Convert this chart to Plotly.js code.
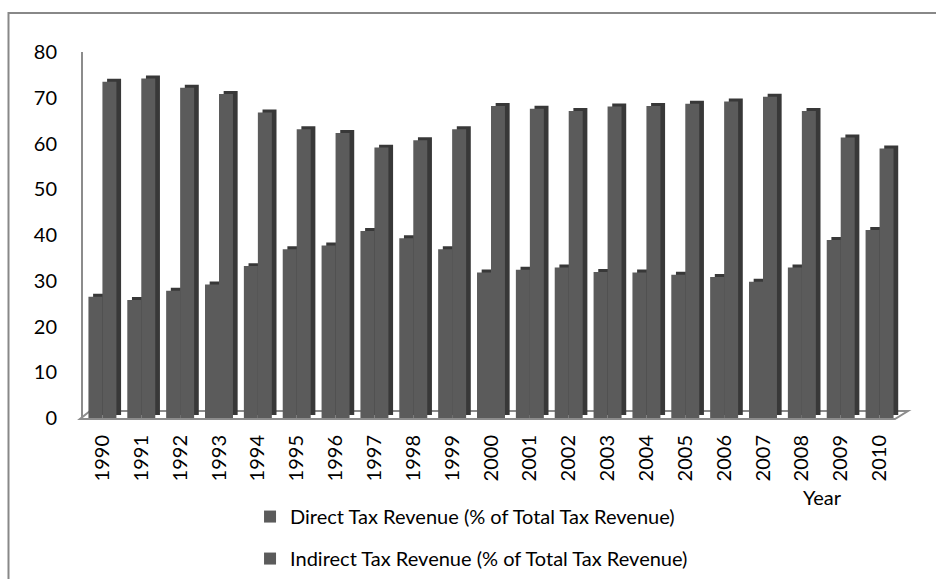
<!DOCTYPE html>
<html>
<head>
<meta charset="utf-8">
<script src="https://cdn.plot.ly/plotly-3.0.1.min.js"></script>
<style>
  html, body { margin: 0; padding: 0; background: #ffffff; }
  #chart { width: 936px; height: 579px; }
</style>
</head>
<body>
<div id="chart"></div>
<script>
const years = ['1990','1991','1992','1993','1994','1995','1996','1997','1998','1999','2000',
               '2001','2002','2003','2004','2005','2006','2007','2008','2009','2010'];
const directTax = [26.5, 25.8, 27.8, 29.2, 33.2, 36.9, 37.7, 40.9, 39.3, 36.9, 31.8,
                   32.4, 32.9, 31.9, 31.8, 31.3, 30.8, 29.8, 32.9, 38.9, 41.1];
const indirectTax = [73.5, 74.2, 72.2, 70.8, 66.8, 63.1, 62.3, 59.1, 60.7, 63.1, 68.2,
                     67.6, 67.1, 68.1, 68.2, 68.7, 69.2, 70.2, 67.1, 61.3, 58.9];
const seriesNames = ['Direct Tax Revenue (% of Total Tax Revenue)',
                     'Indirect Tax Revenue (% of Total Tax Revenue)'];

const FRONT = '#5b5b5b';
const SIDE = '#383838';
const BAR_W = 0.36;
const DEPTH_X = 0.12;   // 3D side offset (category units)
const DEPTH_Y = 0.65;   // 3D top offset (value units)
const FONT = 'Lato, "Open Sans", sans-serif';

function shadow(vals, off, grp) {
  return {
    type: 'bar', x: years, y: vals, base: DEPTH_Y,
    offset: off + DEPTH_X, width: BAR_W,
    marker: { color: SIDE, line: { width: 0 } },
    showlegend: false, hoverinfo: 'skip', legendgroup: grp
  };
}
function front(vals, off, name, grp) {
  return {
    type: 'bar', x: years, y: vals, name: name,
    offset: off, width: BAR_W,
    marker: { color: FRONT, line: { width: 0 } },
    legendgroup: grp
  };
}

const data = [
  shadow(directTax, -BAR_W, 'd'),
  front(directTax, -BAR_W, seriesNames[0], 'd'),
  shadow(indirectTax, 0, 'i'),
  front(indirectTax, 0, seriesNames[1], 'i')
];

const layout = {
  width: 936, height: 579,
  margin: { l: 83, r: 37, t: 52, b: 161, autoexpand: false },
  paper_bgcolor: '#ffffff', plot_bgcolor: 'rgba(0,0,0,0)',
  font: { family: FONT, size: 20, color: '#000000' },
  barmode: 'overlay',
  xaxis: {
    type: 'category', tickangle: -90, showgrid: false, showline: false,
    zeroline: false, ticks: '', ticklabelstandoff: 12, automargin: false,
    tickfont: { family: FONT, size: 20, color: '#000000' }
  },
  yaxis: {
    range: [0, 80], dtick: 10, showgrid: false, zeroline: false,
    showline: true, linecolor: '#8c8c8c', linewidth: 2, ticks: '',
    ticklabelstandoff: 20, automargin: false,
    tickfont: { family: FONT, size: 20, color: '#000000' }
  },
  legend: {
    orientation: 'v', x: 0.2047, xanchor: 'left', y: -0.216, yanchor: 'top',
    traceorder: 'grouped', tracegroupgap: 13,
    font: { family: FONT, size: 20, color: '#000000' },
    bgcolor: 'rgba(0,0,0,0)'
  },
  annotations: [{
    text: 'Year', xref: 'paper', yref: 'paper', x: 0.906, y: -0.216,
    xanchor: 'center', yanchor: 'middle', showarrow: false,
    font: { family: FONT, size: 20, color: '#000000' }
  }],
  shapes: [
    { type: 'path', xref: 'paper', yref: 'paper', layer: 'below',
      path: 'M -0.0037,-0.0027 L 0.995,-0.0027 L 1.011,0.0191 L 0.0086,0.0191 Z',
      line: { color: '#8c8c8c', width: 2 }, fillcolor: 'rgba(0,0,0,0)' },
    { type: 'rect', xref: 'paper', yref: 'paper', layer: 'below',
      x0: -0.0913, x1: 1.2, y0: -0.7, y1: 1.1066,
      line: { color: '#888888', width: 2 }, fillcolor: 'rgba(0,0,0,0)' }
  ]
};

Plotly.newPlot('chart', data, layout, { displayModeBar: false, staticPlot: true });
</script>
</body>
</html>
